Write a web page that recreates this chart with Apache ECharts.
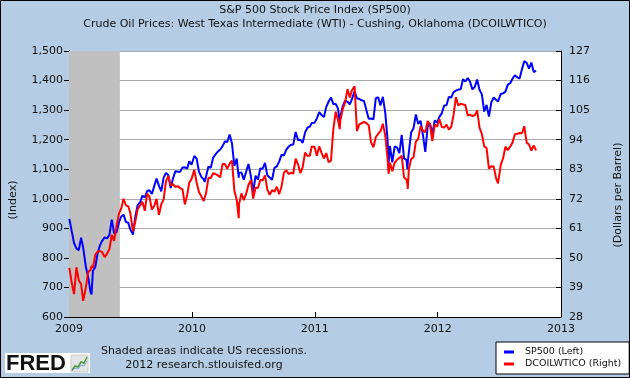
<!DOCTYPE html>
<html>
<head>
<meta charset="utf-8">
<script src="https://cdn.jsdelivr.net/npm/echarts@6/dist/echarts.min.js"></script>
<style>
html,body{margin:0;padding:0;background:#b5cde4;}
#chart{width:630px;height:378px;}
</style>
</head>
<body>
<div id="chart"></div>
<script>
// Weekly observations (dates shared by both series)
var dates = [
'2009-01-02','2009-01-09','2009-01-16','2009-01-23','2009-01-30','2009-02-06','2009-02-12','2009-02-20','2009-02-27','2009-03-06','2009-03-09','2009-03-13','2009-03-20','2009-03-27','2009-04-03','2009-04-09','2009-04-17','2009-04-24','2009-05-01','2009-05-08','2009-05-15','2009-05-22','2009-05-29','2009-06-05','2009-06-12','2009-06-19','2009-06-26','2009-07-02','2009-07-10','2009-07-17','2009-07-24','2009-07-31','2009-08-07','2009-08-14','2009-08-21','2009-08-28','2009-09-04','2009-09-11','2009-09-18','2009-09-25','2009-10-02','2009-10-09','2009-10-16','2009-10-23','2009-10-30','2009-11-06','2009-11-13','2009-11-20','2009-11-27','2009-12-04','2009-12-11','2009-12-18','2009-12-24','2009-12-31',
'2010-01-08','2010-01-15','2010-01-22','2010-01-29','2010-02-05','2010-02-08','2010-02-12','2010-02-19','2010-02-26','2010-03-05','2010-03-12','2010-03-19','2010-03-26','2010-04-02','2010-04-09','2010-04-16','2010-04-23','2010-04-30','2010-05-07','2010-05-14','2010-05-20','2010-05-21','2010-05-28','2010-06-04','2010-06-11','2010-06-18','2010-06-25','2010-07-02','2010-07-09','2010-07-16','2010-07-23','2010-07-30','2010-08-06','2010-08-13','2010-08-20','2010-08-27','2010-09-03','2010-09-10','2010-09-17','2010-09-24','2010-10-01','2010-10-08','2010-10-15','2010-10-22','2010-10-29','2010-11-05','2010-11-12','2010-11-19','2010-11-26','2010-12-03','2010-12-10','2010-12-17','2010-12-23','2010-12-31',
'2011-01-07','2011-01-14','2011-01-21','2011-01-28','2011-02-04','2011-02-11','2011-02-18','2011-02-25','2011-03-04','2011-03-11','2011-03-16','2011-03-18','2011-03-25','2011-04-01','2011-04-08','2011-04-15','2011-04-21','2011-04-29','2011-05-06','2011-05-13','2011-05-20','2011-05-27','2011-06-03','2011-06-10','2011-06-17','2011-06-24','2011-07-01','2011-07-08','2011-07-15','2011-07-22','2011-07-29','2011-08-05','2011-08-08','2011-08-12','2011-08-19','2011-08-26','2011-09-02','2011-09-09','2011-09-16','2011-09-23','2011-09-30','2011-10-03','2011-10-04','2011-10-07','2011-10-14','2011-10-21','2011-10-28','2011-11-04','2011-11-11','2011-11-18','2011-11-25','2011-12-02','2011-12-09','2011-12-16','2011-12-23','2011-12-30',
'2012-01-06','2012-01-13','2012-01-20','2012-01-27','2012-02-03','2012-02-10','2012-02-17','2012-02-24','2012-03-02','2012-03-09','2012-03-16','2012-03-23','2012-03-30','2012-04-05','2012-04-13','2012-04-20','2012-04-27','2012-05-04','2012-05-11','2012-05-18','2012-05-25','2012-06-01','2012-06-08','2012-06-15','2012-06-22','2012-06-28','2012-07-06','2012-07-13','2012-07-20','2012-07-27','2012-08-03','2012-08-10','2012-08-17','2012-08-24','2012-08-31','2012-09-07','2012-09-14','2012-09-21','2012-09-28','2012-10-05','2012-10-12','2012-10-19'
];
var sp500 = [
931.8,890.4,850.1,831.9,825.9,868.6,835.2,770.1,735.1,683.4,676.5,756.6,768.5,815.9,842.5,856.6,869.6,866.2,877.5,929.2,882.9,887.0,919.1,940.1,946.2,921.2,918.9,896.4,879.1,940.4,979.3,987.5,1010.5,1004.1,1026.1,1028.9,1016.4,1042.7,1068.3,1044.4,1025.2,1071.5,1087.7,1079.6,1036.2,1069.3,1093.5,1091.4,1091.5,1105.9,1106.4,1102.5,1126.5,1115.1,
1145.0,1136.0,1091.8,1073.9,1066.2,1056.7,1075.5,1109.2,1104.5,1138.7,1150.0,1159.9,1166.6,1178.1,1194.4,1192.1,1217.3,1186.7,1110.9,1135.7,1071.6,1087.7,1089.4,1064.9,1091.6,1117.5,1076.8,1022.6,1078.0,1064.9,1102.7,1101.6,1121.6,1079.3,1071.7,1064.6,1104.5,1109.6,1125.6,1148.7,1146.2,1165.2,1176.2,1183.1,1183.3,1225.9,1199.2,1199.7,1189.4,1224.7,1240.4,1243.9,1256.8,1257.6,
1271.5,1293.2,1283.4,1276.3,1310.9,1329.2,1343.0,1319.9,1321.2,1304.3,1256.9,1279.2,1313.8,1332.4,1328.2,1319.7,1337.4,1363.6,1340.2,1337.8,1333.3,1331.1,1300.2,1271.0,1271.5,1268.5,1339.7,1343.8,1316.1,1345.0,1292.3,1199.4,1119.5,1178.8,1123.5,1176.8,1174.0,1154.2,1216.0,1136.4,1131.4,1099.2,1124.0,1155.5,1224.6,1238.3,1285.1,1253.2,1263.9,1215.7,1158.7,1244.3,1255.2,1219.7,1265.3,1257.6,
1277.8,1289.1,1315.4,1316.3,1344.9,1342.6,1361.2,1365.7,1369.6,1370.9,1404.2,1397.1,1408.5,1398.1,1370.3,1378.5,1403.4,1369.1,1353.4,1295.2,1317.8,1278.0,1325.7,1342.8,1335.0,1329.0,1354.7,1356.8,1362.7,1386.0,1391.0,1405.9,1418.2,1411.1,1406.6,1437.9,1465.8,1460.2,1440.7,1460.9,1428.6,1433.2
];
var wti = [
46.3,40.8,36.5,46.5,41.7,40.2,34.0,38.9,44.8,45.5,47.1,46.3,51.1,52.4,52.5,52.2,50.3,51.6,53.2,58.6,56.3,61.7,66.3,68.4,72.0,69.6,69.2,66.7,59.9,63.6,68.1,69.5,70.9,67.5,73.9,72.7,68.0,69.3,72.0,66.0,69.9,71.8,78.5,80.5,77.0,77.4,76.4,76.7,76.0,75.5,69.9,73.4,78.0,79.4,
82.8,78.0,74.5,72.9,71.2,71.9,74.1,79.8,79.7,81.5,81.2,80.7,80.0,84.9,84.9,83.2,85.1,86.2,75.1,71.6,64.8,70.0,74.0,71.5,73.8,77.2,78.9,72.1,76.1,76.0,79.0,78.9,80.7,75.4,73.5,75.2,74.6,76.5,73.7,76.5,81.6,82.7,81.2,81.7,81.4,86.9,84.9,81.5,83.8,89.2,88.0,88.0,91.5,91.4,
88.0,91.5,89.1,87.0,89.0,85.6,86.2,97.9,104.4,101.2,97.9,101.4,105.4,107.9,112.8,109.7,112.3,113.9,97.2,99.7,100.1,100.6,100.2,99.3,93.0,91.2,94.9,96.2,97.2,99.9,95.7,86.9,81.3,85.4,82.3,85.4,86.5,87.2,88.0,79.9,79.2,77.6,75.7,83.0,86.8,87.4,93.3,94.3,99.0,97.4,96.8,101.0,99.4,93.5,99.7,98.8,
101.6,98.7,98.5,99.6,97.8,98.7,103.2,109.8,106.7,107.4,107.1,106.9,103.0,103.3,102.8,103.1,104.9,98.5,96.1,91.5,90.9,83.2,84.1,84.0,79.8,77.7,84.5,87.1,91.4,90.1,91.4,92.9,96.0,96.2,96.5,96.4,99.0,92.9,92.2,89.9,91.9,90.0
];
var recessions = [['2009-01-01', '2009-06-01']];
var xRange = ['2009-01-01', '2013-01-01'];
var leftTicks = {min: 600, max: 1500, interval: 100};
var rightTicks = {min: 28, max: 127, interval: 11};

var spData = dates.map(function (d, i) { return [d, sp500[i]]; });
var wtiData = dates.map(function (d, i) { return [d, wti[i]]; });

var FONT = 'DejaVu Sans';
var chart = echarts.init(document.getElementById('chart'), null, {renderer: 'canvas'});
chart.setOption({
  backgroundColor: '#b5cde4',
  animation: false,
  textStyle: {fontFamily: FONT},
  title: {
    text: 'S&P 500 Stock Price Index (SP500)',
    subtext: 'Crude Oil Prices: West Texas Intermediate (WTI) - Cushing, Oklahoma (DCOILWTICO)',
    left: 'center', top: 5, itemGap: 3, padding: 0,
    textStyle: {fontFamily: FONT, fontSize: 11, fontWeight: 'normal', color: '#111'},
    subtextStyle: {fontFamily: FONT, fontSize: 11, color: '#111'}
  },
  grid: {left: 69, right: 69, top: 51, bottom: 61, containLabel: false, show: true, backgroundColor: '#ffffff', borderWidth: 0},
  legend: {
    orient: 'vertical', left: 496, top: 342, width: 130,
    backgroundColor: '#ffffff', borderColor: '#000', borderWidth: 1,
    padding: [5, 8, 5, 8], itemGap: 2, itemWidth: 10, itemHeight: 3, icon: 'rect',
    textStyle: {fontFamily: FONT, fontSize: 9.5, color: '#111', padding: [0, 0, 0, 6]},
    data: ['SP500 (Left)', 'DCOILWTICO (Right)']
  },
  xAxis: {
    type: 'time', min: xRange[0], max: xRange[1], splitNumber: 4,
    axisLine: {show: true, lineStyle: {color: '#000', width: 1}},
    axisTick: {show: true, inside: true, length: 5, lineStyle: {color: '#000'}},
    axisLabel: {formatter: '{yyyy}', color: '#111', fontSize: 11, margin: 7, fontFamily: FONT, showMinLabel: true, showMaxLabel: true},
    splitLine: {show: false}
  },
  yAxis: [{
    type: 'value', position: 'left', min: leftTicks.min, max: leftTicks.max, interval: leftTicks.interval,
    axisLine: {show: true, lineStyle: {color: '#000', width: 1}},
    axisTick: {show: true, inside: false, length: 5, lineStyle: {color: '#000'}},
    axisLabel: {color: '#111', fontSize: 11, margin: 6, fontFamily: FONT,
      formatter: function (v) { return v.toString().replace(/\B(?=(\d{3})+(?!\d))/g, ','); }},
    splitLine: {show: true, lineStyle: {color: '#aaaaaa', width: 1}}
  }, {
    type: 'value', position: 'right', min: rightTicks.min, max: rightTicks.max, interval: rightTicks.interval,
    axisLine: {show: true, lineStyle: {color: '#000', width: 1}},
    axisTick: {show: true, inside: true, length: 5, lineStyle: {color: '#000'}},
    axisLabel: {color: '#111', fontSize: 11, margin: 8, fontFamily: FONT},
    splitLine: {show: false}
  }],
  series: [{
    name: 'SP500 (Left)', type: 'line', yAxisIndex: 0, data: spData,
    showSymbol: false, symbol: 'none', lineStyle: {color: '#0000ff', width: 2}, itemStyle: {color: '#0000ff'},
    markArea: {silent: true, itemStyle: {color: '#c0c0c0', opacity: 1},
      data: recessions.map(function (r) { return [{xAxis: r[0]}, {xAxis: r[1]}]; })},
    z: 3
  }, {
    name: 'DCOILWTICO (Right)', type: 'line', yAxisIndex: 1, data: wtiData,
    showSymbol: false, symbol: 'none', lineStyle: {color: '#ff0000', width: 2}, itemStyle: {color: '#ff0000'},
    z: 4
  }],
  graphic: [
    {type: 'text', rotation: Math.PI / 2, x: 13, y: 200,
      style: {text: '(Index)', font: '11px "DejaVu Sans"', fill: '#111', textAlign: 'center', textVerticalAlign: 'middle'}},
    {type: 'text', rotation: Math.PI / 2, x: 618, y: 195,
      style: {text: '(Dollars per Barrel)', font: '11px "DejaVu Sans"', fill: '#111', textAlign: 'center', textVerticalAlign: 'middle'}},
    {type: 'text', x: 204, y: 351,
      style: {text: 'Shaded areas indicate US recessions.', font: '11px "DejaVu Sans"', fill: '#111', textAlign: 'center', textVerticalAlign: 'middle'}},
    {type: 'text', x: 204, y: 365,
      style: {text: '2012 research.stlouisfed.org', font: '11px "DejaVu Sans"', fill: '#111', textAlign: 'center', textVerticalAlign: 'middle'}},
    {type: 'rect', shape: {x: 5, y: 353, width: 85, height: 20}, style: {fill: '#ffffff'}},
    {type: 'text', x: 6, y: 364,
      style: {text: 'FRED', font: 'bold 22px "Liberation Sans"', fill: '#111', textAlign: 'left', textVerticalAlign: 'middle'}},
    {type: 'rect', shape: {x: 71, y: 355, width: 17, height: 17}, style: {fill: '#e4e4e4', stroke: '#cccccc', lineWidth: 1}},
    {type: 'polyline', shape: {points: [[72, 370], [75, 366], [78, 367], [81, 362], [84, 363], [87, 357]]}, style: {stroke: '#4a9a3a', lineWidth: 1.5, fill: null}},
    {type: 'polyline', shape: {points: [[72, 371], [75, 368], [78, 369], [81, 365], [84, 366], [87, 361]]}, style: {stroke: '#7aa6d6', lineWidth: 1, fill: null}},
    {type: 'rect', shape: {x: 0.5, y: 0.5, width: 629, height: 377}, style: {fill: null, stroke: '#000', lineWidth: 1}, z: 100}
  ]
});
</script>
</body>
</html>
